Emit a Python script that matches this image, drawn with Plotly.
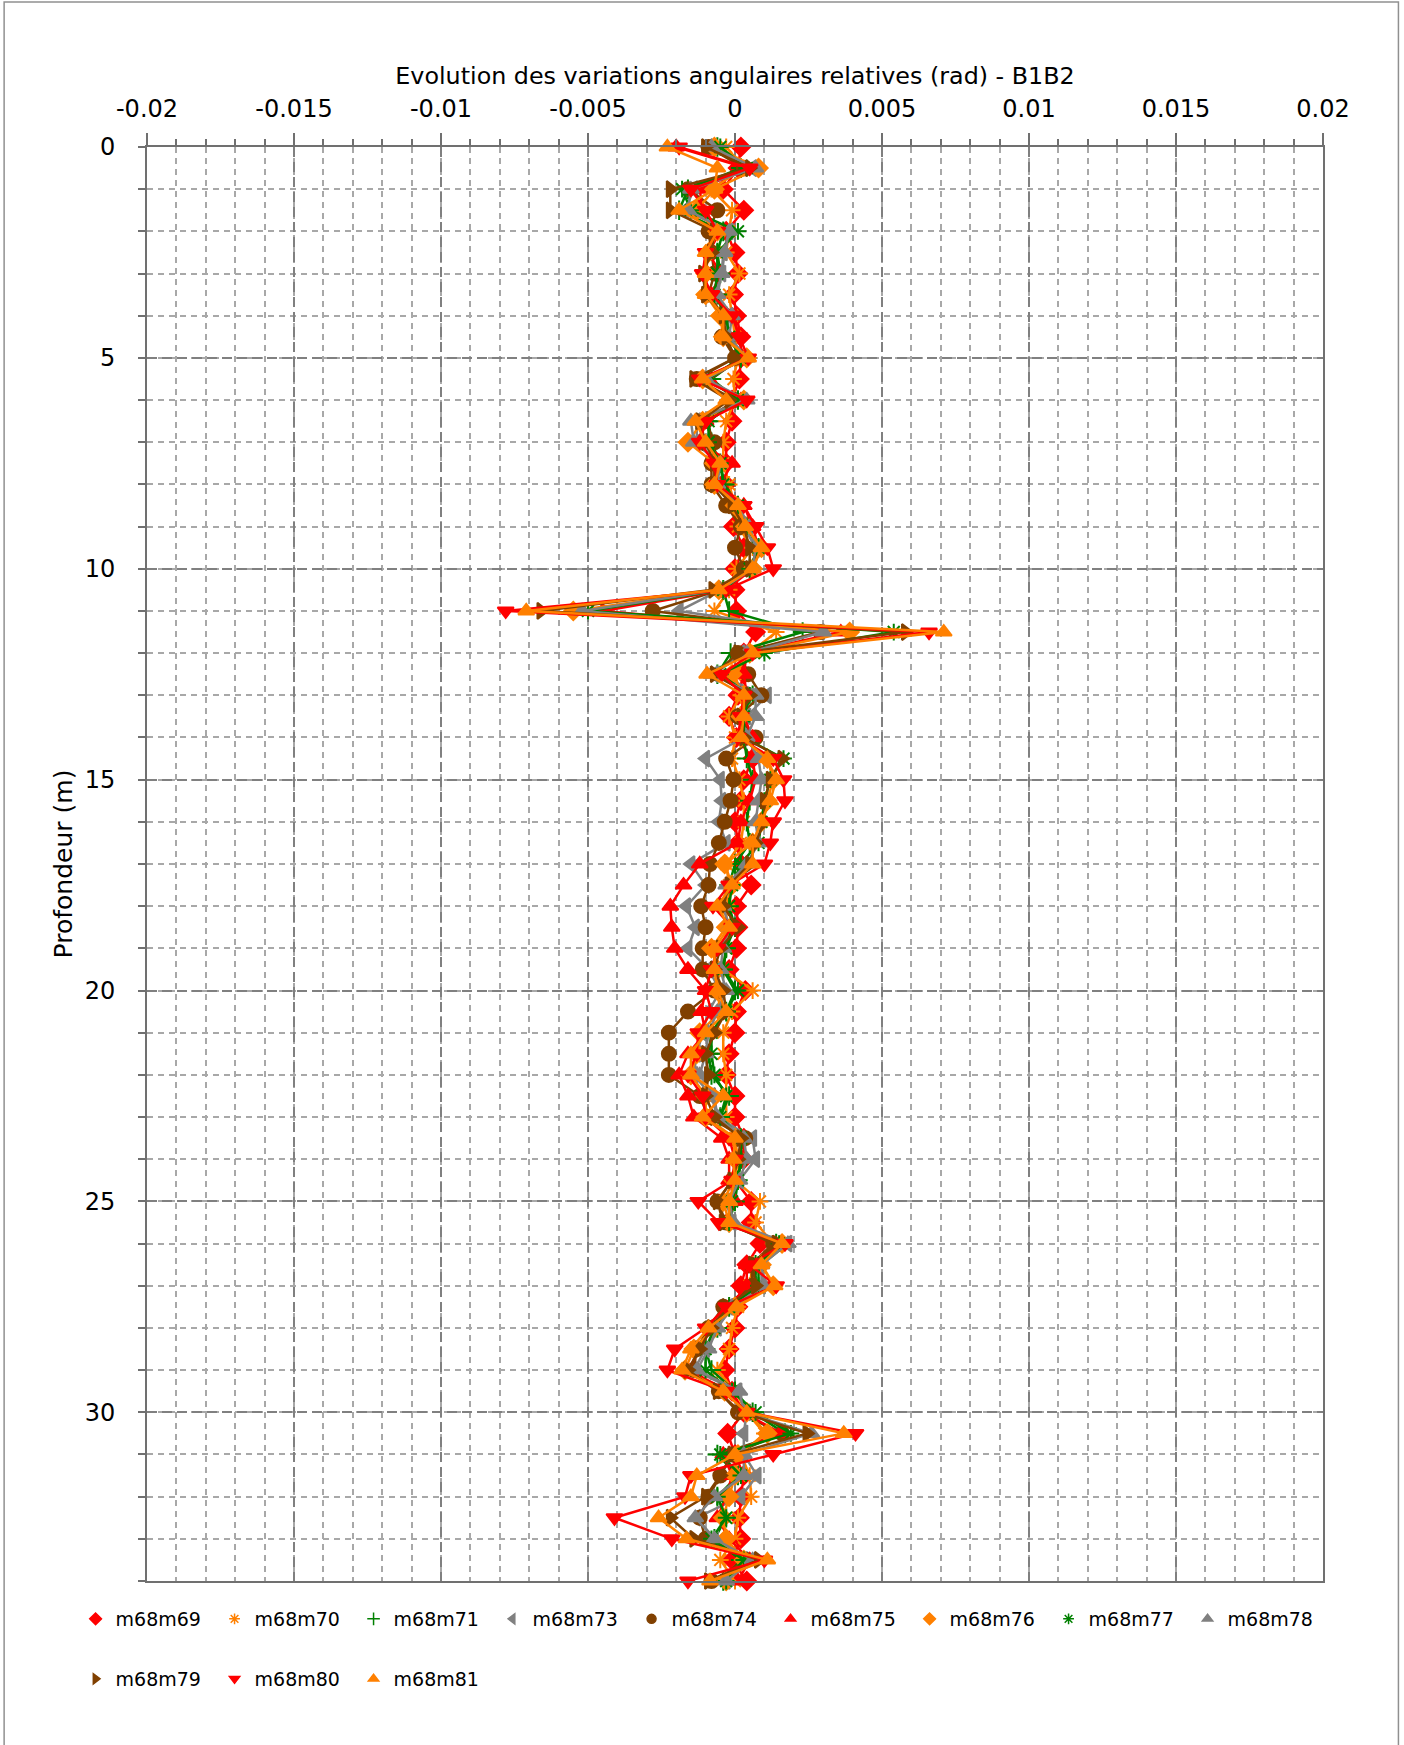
import plotly.graph_objects as go

# Depth (m)
depth = [0, 0.5, 1, 1.5, 2, 2.5, 3, 3.5, 4, 4.5, 5, 5.5, 6, 6.5, 7, 7.5, 8, 8.5, 9, 9.5,
         10, 10.5, 11, 11.5, 12, 12.5, 13, 13.5, 14, 14.5, 15, 15.5, 16, 16.5, 17, 17.5,
         18, 18.5, 19, 19.5, 20, 20.5, 21, 21.5, 22, 22.5, 23, 23.5, 24, 24.5, 25, 25.5,
         26, 26.5, 27, 27.5, 28, 28.5, 29, 29.5, 30, 30.5, 31, 31.5, 32, 32.5, 33, 33.5, 34]

# Relative angular variations, in milliradians (converted to rad for plotting)
m68m69 = [0.2, 0.1, -0.4, 0.3, -0.3, 0.0, 0.1, -0.05, 0.05, 0.2,
          0.2, 0.15, -0.1, -0.1, -0.3, -0.3, -0.3, 0.0, -0.05, 0.3,
          0.0, 0.0, 0.05, 0.7, 0.3, 0.3, 0.1, -0.2, 0.05, 0.6,
          0.3, 0.2, 0.0, 0.1, 0.2, 0.55, 0.05, 0.1, 0.05, -0.2,
          0.35, 0.05, 0.0, -0.2, -0.3, 0.0, 0.0, 0.3, 0.3, 0.0,
          0.55, 0.55, 0.85, 0.4, 0.2, 0.1, 0.0, -0.2, -0.35, -0.1,
          0.3, -0.25, 0.0, 0.3, 0.2, 0.15, 0.2, -0.1, 0.4]
m68m70 = [-0.3, 0.3, -0.8, -0.1, -0.2, -0.3, 0.15, -0.2, -0.1, 0.0,
          0.1, -0.05, 0.0, -0.3, -0.4, -0.4, -0.2, 0.0, 0.1, 0.6,
          0.05, -0.2, -0.7, 1.4, 0.5, 0.0, 0.2, -0.2, 0.0, -0.1,
          0.15, 0.3, 0.3, 0.2, -0.3, -0.2, -0.4, -0.2, -0.3, -0.4,
          0.6, -0.1, -0.4, -0.4, -0.3, -0.3, -0.3, 0.0, 0.1, 0.0,
          0.85, 0.7, 1.3, 0.6, 0.5, 0.1, -0.1, -0.2, -0.6, 0.0,
          0.4, 1.0, 0.2, 0.5, 0.55, 0.1, 0.0, -0.5, 0.0]
m68m71 = [-0.6, 0.2, -1.6, -1.9, -0.4, -0.6, -0.5, -0.6, -0.3, -0.2,
          0.2, -0.8, 0.1, -0.9, -0.8, -0.5, -0.35, 0.1, 0.4, 0.8,
          0.5, -0.4, -0.2, 2.3, -0.15, -0.6, 0.6, 0.2, 0.3, 0.4,
          0.6, 0.5, 0.4, 0.5, 0.0, -0.2, -0.2, 0.0, -0.3, -0.4,
          0.0, -0.3, -0.8, -0.9, -0.8, -0.2, -0.5, 0.2, 0.2, 0.1,
          0.0, -0.2, 1.4, 0.7, 0.7, -0.2, -0.6, -1.0, -0.8, 0.0,
          0.6, 1.7, -0.6, 0.1, -0.6, -0.3, -0.7, 0.2, -0.4]
m68m73 = [-0.9, 0.6, -1.4, -1.7, -0.2, -0.4, -0.45, -0.7, -0.2, -0.3,
          0.3, -1.0, 0.2, -1.3, -1.3, -0.6, -0.8, 0.0, 0.3, 0.7,
          0.6, -0.5, -1.9, 2.9, 0.2, -0.7, 1.1, 0.4, 0.3, -1.0,
          -0.5, -0.45, -0.55, -0.3, -1.5, -1.0, -1.65, -1.35, -1.6, -0.9,
          -0.5, -0.9, -1.1, -1.3, -1.4, -0.8, -0.6, 0.6, 0.7, 0.15,
          -0.3, -0.1, 1.8, 0.9, 0.9, -0.2, -0.6, -1.0, -1.4, 0.1,
          0.4, 0.3, 0.3, 0.75, 0.2, -1.3, -0.7, 0.3, -0.3]
m68m74 = [-0.9, 0.3, -1.6, -0.6, -0.9, -0.8, -0.7, -0.9, -0.4, -0.45,
          0.0, -1.3, 0.0, -1.0, -0.7, -0.8, -0.8, -0.3, 0.2, 0.0,
          0.3, -0.5, -2.8, 2.9, 0.1, 0.45, 0.9, 0.1, 0.7, -0.3,
          -0.05, -0.15, -0.35, -0.55, -0.85, -0.9, -1.15, -1.0, -1.1, -1.1,
          -0.7, -1.6, -2.25, -2.25, -2.25, -1.2, -0.9, 0.35, 0.1, -0.1,
          -0.6, -0.3, 1.3, 0.55, 0.6, -0.4, -0.9, -1.3, -1.4, -0.55,
          0.1, 1.6, -0.1, -0.5, -0.9, -1.2, -1.0, 0.4, -0.8]
m68m75 = [-2.0, 0.4, -1.2, -1.1, -0.5, -0.9, -0.5, -0.8, 0.0, 0.1,
          0.3, -0.9, 0.2, -1.0, -1.2, -0.1, -0.5, 0.3, 0.6, 0.8,
          0.6, -0.3, -4.5, 3.6, 0.4, 0.3, 0.4, 0.3, 0.6, 0.6,
          0.7, 0.5, 0.2, 0.1, -1.2, -1.75, -2.2, -2.15, -2.05, -1.6,
          -1.0, -1.15, -1.0, -1.6, -1.9, -1.6, -1.4, -0.45, -0.2, -0.2,
          0.0, -0.3, 1.6, 0.4, 0.4, -0.2, -0.8, -1.2, -1.6, -0.2,
          0.3, 1.55, -0.4, -0.1, -0.3, -0.6, -0.2, 0.5, 0.1]
m68m76 = [-0.7, 0.8, -0.7, -1.3, -0.6, -0.9, -1.0, -1.0, -0.5, -0.4,
          0.4, -1.1, 0.3, -1.1, -1.6, -0.7, -0.7, 0.0, 0.35, 0.9,
          0.6, -0.55, -5.5, 3.9, 0.5, -0.1, 0.3, 0.2, 0.2, 1.1,
          1.3, 1.1, 0.9, 0.6, -0.35, -0.1, -0.3, -0.3, -0.8, -0.6,
          -0.6, -0.5, -1.2, -1.3, -1.5, -1.0, -1.0, 0.0, 0.0, -0.05,
          -0.4, -0.2, 1.6, 0.9, 1.3, 0.0, -0.7, -1.4, -1.7, -0.35,
          0.4, 1.1, 0.1, 0.0, -0.2, -0.4, -0.3, 0.3, -0.3]
m68m77 = [-0.5, 0.4, -1.8, -1.5, 0.1, -0.6, -0.6, -0.7, -0.3, -0.2,
          0.2, -0.9, 0.1, -0.9, -0.9, -0.5, -0.4, 0.1, 0.4, 0.8,
          0.5, -0.4, -5.0, 5.4, 1.0, -0.5, 0.5, 0.3, 0.3, 1.65,
          1.2, 1.0, 0.9, 0.8, 0.2, -0.1, -0.2, -0.1, -0.3, -0.4,
          0.1, -0.3, -0.8, -0.8, -0.7, -0.3, -0.5, 0.2, 0.2, 0.1,
          -0.1, -0.2, 1.5, 0.8, 0.8, -0.2, -0.7, -1.0, -1.0, -0.1,
          0.7, 1.9, -0.5, 0.2, -0.6, -0.3, -0.8, 0.3, -0.3]
m68m78 = [-0.8, 0.7, -1.5, -1.6, -0.2, -0.35, -0.45, -0.6, -0.1, -0.2,
          0.4, -1.0, 0.4, -1.5, -1.4, -0.5, -0.6, 0.1, 0.5, 0.7,
          0.6, -0.5, -5.2, 3.0, 0.4, -0.8, 0.7, 0.7, 0.4, 0.8,
          0.9, 0.8, 0.7, 0.8, 0.4, -0.3, -0.4, -0.2, -0.4, -0.5,
          -0.3, -0.6, -0.9, -1.0, -1.2, -0.7, -0.6, 0.3, 0.4, 0.15,
          -0.2, -0.05, 1.8, 0.9, 1.0, -0.1, -0.6, -0.9, -1.3, 0.15,
          0.3, 2.6, 0.3, 0.3, -0.7, -1.35, -0.7, 0.6, -0.3]
m68m79 = [-1.0, 0.5, -2.2, -2.2, -0.7, -0.8, -1.1, -1.0, -0.4, -0.3,
          0.0, -1.4, -0.2, -1.2, -1.0, -0.7, -0.7, -0.1, 0.3, 0.5,
          0.5, -0.75, -6.6, 5.8, 0.1, -0.7, 0.5, 0.2, 0.3, 1.6,
          1.2, 1.0, 1.0, 0.7, 0.5, -0.2, -0.4, 0.1, -0.5, -0.7,
          -0.4, -0.3, -0.7, -1.0, -0.9, -1.0, -0.7, 0.2, 0.1, -0.1,
          -0.6, -0.4, 1.4, 0.6, 0.7, -0.3, -0.8, -1.2, -1.6, -0.6,
          0.2, 2.45, -0.1, -0.5, -1.0, -2.2, -1.4, 0.8, -0.9]
m68m80 = [-1.9, 0.5, -1.5, -1.0, -0.6, -1.0, -1.1, -0.8, -0.1, 0.15,
          0.45, -1.2, 0.4, -1.0, -1.2, -0.7, -0.6, 0.3, 0.7, 1.1,
          1.3, -0.3, -7.8, 6.6, 0.6, -0.45, 0.3, 0.2, 0.1, 1.3,
          1.65, 1.7, 1.3, 1.2, 1.0, -0.2, -0.75, -0.1, -0.6, -0.8,
          -1.0, -0.8, -1.25, -1.3, -1.6, -1.1, -1.0, -0.2, 0.0, -0.1,
          -1.25, -0.55, 1.7, 0.5, 1.4, -0.3, -1.0, -2.05, -2.3, -0.3,
          0.4, 4.1, 1.3, -1.5, -1.7, -4.1, -2.15, 1.0, -1.6]
m68m81 = [-2.3, -0.6, -0.7, -1.9, -0.6, -1.0, -1.0, -1.0, -0.4, -0.4,
          0.45, -1.1, -0.3, -1.35, -1.0, -0.5, -0.7, 0.1, 0.35, 0.9,
          0.6, -0.55, -7.1, 7.1, 0.6, -0.95, 0.3, 0.3, 0.2, 1.1,
          1.4, 1.2, 0.9, 0.6, 0.6, -0.1, -0.6, -0.2, -0.7, -0.7,
          -0.6, -0.3, -1.0, -1.5, -1.5, -0.4, -1.1, 0.0, -0.05, 0.0,
          -0.2, -0.2, 1.6, 0.9, 1.35, 0.05, -0.9, -1.5, -1.8, -0.4,
          0.4, 3.7, 0.0, -1.3, -1.5, -2.6, -1.65, 1.1, -0.85]

series_names = ["m68m69", "m68m70", "m68m71", "m68m73", "m68m74", "m68m75",
                "m68m76", "m68m77", "m68m78", "m68m79", "m68m80", "m68m81"]
series_values = [m68m69, m68m70, m68m71, m68m73, m68m74, m68m75,
                 m68m76, m68m77, m68m78, m68m79, m68m80, m68m81]

x_tick_vals = [-0.02, -0.015, -0.01, -0.005, 0, 0.005, 0.01, 0.015, 0.02]
x_tick_text = ["-0.02", "-0.015", "-0.01", "-0.005", "0", "0.005", "0.01", "0.015", "0.02"]
y_tick_vals = [0, 5, 10, 15, 20, 25, 30]

RED, ORANGE, GREEN, GRAY, BROWN = "#FF0000", "#FF8000", "#008000", "#808080", "#804000"
styles = {
    "m68m69": (RED, "diamond"),
    "m68m70": (ORANGE, "asterisk-open"),
    "m68m71": (GREEN, "cross-thin-open"),
    "m68m73": (GRAY, "triangle-left"),
    "m68m74": (BROWN, "circle"),
    "m68m75": (RED, "triangle-up"),
    "m68m76": (ORANGE, "diamond"),
    "m68m77": (GREEN, "asterisk-open"),
    "m68m78": (GRAY, "triangle-up"),
    "m68m79": (BROWN, "triangle-right"),
    "m68m80": (RED, "triangle-down"),
    "m68m81": (ORANGE, "triangle-up"),
}

FONT = "DejaVu Sans"
fig = go.Figure()

for name, vals in zip(series_names, series_values):
    color, symbol = styles[name]
    fig.add_trace(go.Scatter(
        x=[v * 1e-3 for v in vals], y=depth, mode="lines+markers", name=name,
        line=dict(color=color, width=2.5),
        marker=dict(symbol=symbol, size=14, color=color, line=dict(color=color, width=2)),
        showlegend=False, cliponaxis=False,
    ))

# legend entries (markers only), split in two rows
for i, name in enumerate(series_names):
    color, symbol = styles[name]
    fig.add_trace(go.Scatter(
        x=[None], y=[None], mode="markers", name=name,
        marker=dict(symbol=symbol, size=9, color=color, line=dict(color=color, width=1.5)),
        legend="legend" if i < 9 else "legend2",
    ))

W, H = 1404, 1745
L, R, T, B = 146.5, 1323.5, 147, 1581
pw, ph = R - L, B - T

def px(x):
    return (x - L) / pw

def py(y):
    return (B - y) / ph

legend_common = dict(
    orientation="h", xanchor="left", yanchor="middle",
    font=dict(family=FONT, size=19, color="#000000"),
    entrywidthmode="pixels", entrywidth=94,
    bgcolor="rgba(0,0,0,0)", itemclick=False, itemdoubleclick=False,
)

fig.update_layout(
    width=W, height=H,
    margin=dict(l=L, r=W - R, t=T, b=H - B, autoexpand=False),
    paper_bgcolor="white", plot_bgcolor="white",
    font=dict(family=FONT, size=24, color="#000000"),
    legend=dict(x=px(75), y=py(1619), **legend_common),
    legend2=dict(x=px(75), y=py(1679), **legend_common),
    xaxis=dict(
        side="top", range=[-0.02, 0.02],
        tickmode="array", tickvals=x_tick_vals, ticktext=x_tick_text,
        ticks="outside", ticklen=12, tickwidth=2, tickcolor="#707070",
        ticklabelstandoff=6,
        showgrid=True, gridcolor="#808080", gridwidth=2, griddash="10px,5px",
        minor=dict(dtick=0.001, showgrid=True, gridcolor="#A8A8A8", gridwidth=2,
                   griddash="6px,5px", ticks="outside", ticklen=6, tickcolor="#707070"),
        zeroline=False,
        showline=True, linecolor="#707070", linewidth=2, mirror=True,
        title=dict(text="Evolution des variations angulaires relatives (rad) - B1B2",
                   font=dict(family=FONT, size=23.8), standoff=4),
        tickfont=dict(family=FONT, size=24),
    ),
    yaxis=dict(
        range=[34, 0],
        tickmode="array", tickvals=y_tick_vals,
        ticks="outside", ticklen=7, tickwidth=2, tickcolor="#707070",
        ticklabelstandoff=18,
        showgrid=True, gridcolor="#808080", gridwidth=2, griddash="10px,5px",
        minor=dict(dtick=1, showgrid=True, gridcolor="#A8A8A8", gridwidth=2,
                   griddash="6px,5px", ticks="outside", ticklen=7, tickcolor="#707070"),
        zeroline=False,
        showline=True, linecolor="#707070", linewidth=2, mirror=True,
        title=dict(text="Profondeur (m)", font=dict(family=FONT, size=25), standoff=5),
        tickfont=dict(family=FONT, size=24),
    ),
    shapes=[dict(type="rect", xref="paper", yref="paper",
                 x0=px(3.5), x1=px(1399), y0=py(1760), y1=py(2),
                 line=dict(color="#909090", width=1.5), fillcolor="rgba(0,0,0,0)",
                 layer="below")],
)

# remove the browser's default 8 px page margin so the figure sits at the window origin
fig.write_html("out.html", config={"displayModeBar": False},
               post_script="document.body.style.margin='0px';")
